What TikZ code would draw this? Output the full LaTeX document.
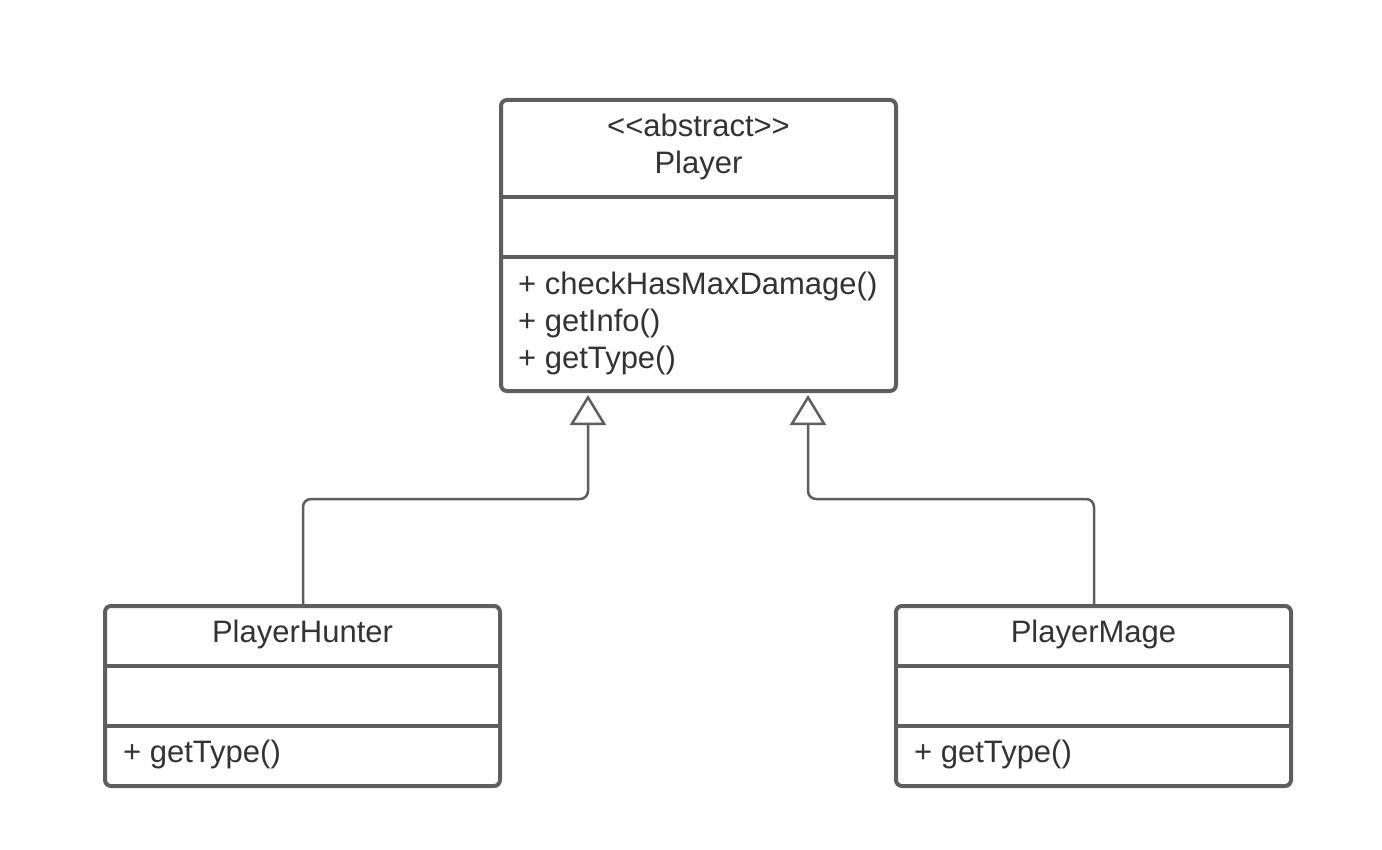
\documentclass[tikz,border=0pt]{standalone}
\usepackage{fontspec}
\setmainfont{Liberation Sans}
\usetikzlibrary{arrows.meta}
\definecolor{linegray}{HTML}{5E5E5E}
\definecolor{textgray}{HTML}{333333}
\begin{document}
\begin{tikzpicture}[x=1pt,y=-1pt,
  classbox/.style={draw=linegray, line width=4pt, rounded corners=6pt, fill=white,
    inner sep=0pt, outer sep=0pt, minimum width=395pt, anchor=north west},
  divider/.style={draw=linegray, line width=4pt},
  txt/.style={text=textgray, font=\fontsize{31}{37}\selectfont, inner sep=0pt},
  conn/.style={draw=linegray, line width=2.5pt, rounded corners=8pt,
    -{Triangle[open, length=30pt, width=36pt, line width=2.5pt]}}]
\useasboundingbox (0,0) rectangle (1382,850);
% Player
\node[classbox, minimum height=291pt] (player) at (501,100) {};
\draw[divider] (501,197) -- (896,197);
\draw[divider] (501,257) -- (896,257);
\node[txt, align=center] (ptitle) at (698.5,147) {{<}{<}abstract{>}{>}\\Player};
\node[txt, align=left, anchor=west] (pops) at (518,323) {+ checkHasMaxDamage()\\+ getInfo()\\+ getType()};
% PlayerHunter
\node[classbox, minimum height=180pt] (hunter) at (105,606) {};
\draw[divider] (105,666) -- (500,666);
\draw[divider] (105,726) -- (500,726);
\node[txt] (htitle) at (302.5,634) {PlayerHunter};
\node[txt, anchor=west] (hops) at (123,754) {+ getType()};
% PlayerMage
\node[classbox, minimum height=180pt] (mage) at (896,606) {};
\draw[divider] (896,666) -- (1291,666);
\draw[divider] (896,726) -- (1291,726);
\node[txt] (mtitle) at (1093.5,634) {PlayerMage};
\node[txt, anchor=west] (mops) at (914,754) {+ getType()};
% Connectors
\coordinate (t1) at (588,395);
\coordinate (t2) at (808,395);
\coordinate (h1) at (303,499);
\coordinate (h2) at (588,499);
\coordinate (m1) at (1094,499);
\coordinate (m2) at (808,499);
\draw[conn] (hunter.north -| h1) -- (h1) -- (h2) -- (t1);
\draw[conn] (mage.north -| m1) -- (m1) -- (m2) -- (t2);
\end{tikzpicture}
\end{document}
